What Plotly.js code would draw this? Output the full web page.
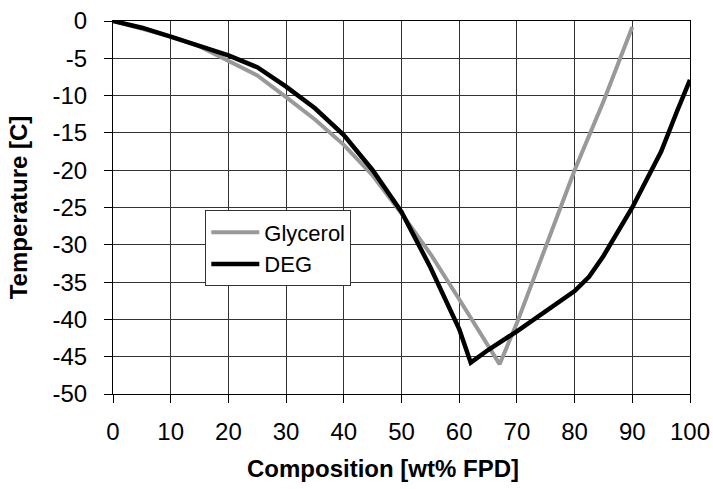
<!DOCTYPE html>
<html>
<head>
<meta charset="utf-8">
<script src="https://cdn.plot.ly/plotly-3.0.1.min.js"></script>
<style>
  html, body { margin: 0; padding: 0; background: #fff; }
  #chart { width: 713px; height: 489px; }
</style>
</head>
<body>
<div id="chart"></div>
<script>
// Freezing-point curves: composition (wt% FPD) vs temperature (C)
const glycerolX = [0, 5, 10, 15, 20, 25, 30, 35, 40, 45, 50, 55, 60, 63, 67, 70, 75, 80, 85, 90];
const glycerolY = [0, -1.0, -2.1, -3.4, -5.3, -7.3, -10.2, -13.2, -16.6, -20.7, -25.8, -31.2, -37.3, -41.1, -46.0, -40.5, -30.4, -20.0, -10.8, -0.8];

const degX = [0, 5, 10, 15, 20, 25, 30, 35, 40, 45, 50, 55, 60, 62, 65, 70, 75, 80, 82.5, 85, 90, 95, 97.7, 100];
const degY = [0, -0.9, -2.1, -3.3, -4.6, -6.2, -8.8, -11.7, -15.3, -20.0, -25.6, -33.0, -41.3, -45.8, -44.1, -41.6, -38.9, -36.2, -34.3, -31.5, -25.0, -17.5, -12.2, -7.9];

const xTicks = [0, 10, 20, 30, 40, 50, 60, 70, 80, 90, 100];
const yTicks = [0, -5, -10, -15, -20, -25, -30, -35, -40, -45, -50];

const FONT = 'Liberation Sans, Arial, sans-serif';
const GRID = '#333333';

const traces = [
  {
    x: glycerolX, y: glycerolY, name: 'Glycerol', type: 'scatter', mode: 'lines',
    line: { color: '#999999', width: 4 }
  },
  {
    x: degX, y: degY, name: 'DEG', type: 'scatter', mode: 'lines',
    line: { color: '#000000', width: 4.5 }
  }
];

const layout = {
  width: 713, height: 489,
  margin: { l: 113, r: 23, t: 21, b: 95 },
  paper_bgcolor: '#ffffff', plot_bgcolor: '#ffffff',
  font: { family: FONT, color: '#000', size: 24 },
  showlegend: true,
  legend: {
    x: 0.16, y: 0.492, xanchor: 'left', yanchor: 'top',
    bgcolor: '#ffffff', bordercolor: '#333', borderwidth: 1,
    font: { family: FONT, size: 22, color: '#000' },
    itemwidth: 48, tracegroupgap: 0
  },
  xaxis: {
    range: [0, 100], tickvals: xTicks, ticktext: xTicks.map(String),
    showgrid: true, gridcolor: GRID, gridwidth: 1,
    showline: true, linecolor: '#000', linewidth: 1, mirror: true,
    ticks: 'outside', ticklen: 8, tickcolor: '#000', tickwidth: 1,
    ticklabelstandoff: 8,
    tickfont: { family: FONT, size: 24, color: '#000' },
    zeroline: false, fixedrange: true
  },
  yaxis: {
    range: [-50, 0], tickvals: yTicks, ticktext: yTicks.map(String),
    showgrid: true, gridcolor: GRID, gridwidth: 1,
    showline: true, linecolor: '#000', linewidth: 1, mirror: true,
    ticks: 'outside', ticklen: 8, tickcolor: '#000', tickwidth: 1,
    ticklabelstandoff: 12,
    tickfont: { family: FONT, size: 24, color: '#000' },
    zeroline: false, fixedrange: true,
    title: { text: 'Temperature [C]', standoff: 18,
             font: { family: FONT, size: 24, color: '#000', weight: 'bold' } }
  },
  annotations: [
    {
      text: 'Composition [wt% FPD]', xref: 'paper', yref: 'paper',
      x: 0.468, y: -0.2, xanchor: 'center', yanchor: 'middle', showarrow: false,
      font: { family: FONT, size: 24, color: '#000', weight: 'bold' }
    }
  ]
};

Plotly.newPlot('chart', traces, layout, { staticPlot: true, displayModeBar: false });
</script>
</body>
</html>
